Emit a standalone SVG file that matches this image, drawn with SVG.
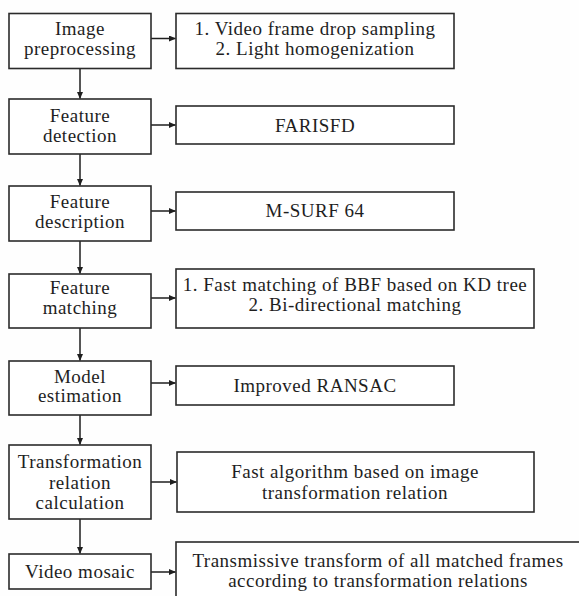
<svg xmlns="http://www.w3.org/2000/svg" width="579" height="596" viewBox="0 0 579 596">
<style>
.box{fill:#fff;stroke:#2b2b2b;stroke-width:1.6}
.t{font-family:"Liberation Serif","Times New Roman",serif;font-size:19px;letter-spacing:0.5px;fill:#1e1e1e;text-anchor:middle}
.c{stroke:#1e1e1e;stroke-width:1.5;fill:none}
</style>
<defs>
<marker id="ah" markerWidth="7" markerHeight="6" refX="6.5" refY="3" orient="auto" markerUnits="userSpaceOnUse">
<path d="M0,0 L7,3 L0,6 Z" fill="#1e1e1e"/>
</marker>
</defs>
<rect width="579" height="596" fill="#fefefe"/>
<g id="connectors">
<path class="c" d="M151,38.5 H175.5" marker-end="url(#ah)"/>
<path class="c" d="M151,125 H175.5" marker-end="url(#ah)"/>
<path class="c" d="M151,211 H175.5" marker-end="url(#ah)"/>
<path class="c" d="M151,298 H175.5" marker-end="url(#ah)"/>
<path class="c" d="M151,383 H175.5" marker-end="url(#ah)"/>
<path class="c" d="M151,482 H176.5" marker-end="url(#ah)"/>
<path class="c" d="M151,572 H175.5" marker-end="url(#ah)"/>
<path class="c" d="M80,68.5 V98.5" marker-end="url(#ah)"/>
<path class="c" d="M80,154 V185.5" marker-end="url(#ah)"/>
<path class="c" d="M80,241 V273.5" marker-end="url(#ah)"/>
<path class="c" d="M80,328 V360.5" marker-end="url(#ah)"/>
<path class="c" d="M80,415 V444.5" marker-end="url(#ah)"/>
<path class="c" d="M80,519 V553.5" marker-end="url(#ah)"/>
</g>
<g id="n1"><rect class="box" x="9" y="13.5" width="142" height="55"/>
<text class="t" x="80" y="35">Image</text><text class="t" x="80" y="55">preprocessing</text></g>
<g id="r1"><rect class="box" x="176" y="13.5" width="278" height="55"/>
<text class="t" x="315" y="35">1. Video frame drop sampling</text><text class="t" x="315" y="55">2. Light homogenization</text></g>
<g id="n2"><rect class="box" x="9" y="99" width="142" height="55"/>
<text class="t" x="80" y="121.5">Feature</text><text class="t" x="80" y="141.5">detection</text></g>
<g id="r2"><rect class="box" x="176" y="106" width="278" height="38"/>
<text class="t" x="315" y="131.5">FARISFD</text></g>
<g id="n3"><rect class="box" x="9" y="186" width="142" height="55"/>
<text class="t" x="80" y="207.5">Feature</text><text class="t" x="80" y="227.5">description</text></g>
<g id="r3"><rect class="box" x="176" y="192" width="278" height="38"/>
<text class="t" x="315" y="217">M-SURF 64</text></g>
<g id="n4"><rect class="box" x="9" y="274" width="142" height="54"/>
<text class="t" x="80" y="293.5">Feature</text><text class="t" x="80" y="313.5">matching</text></g>
<g id="r4"><rect class="box" x="176" y="269" width="358" height="59"/>
<text class="t" x="355" y="291">1. Fast matching of BBF based on KD tree</text><text class="t" x="355" y="311">2. Bi-directional matching</text></g>
<g id="n5"><rect class="box" x="9" y="361" width="142" height="54"/>
<text class="t" x="80" y="382.5">Model</text><text class="t" x="80" y="402">estimation</text></g>
<g id="r5"><rect class="box" x="176" y="366" width="278" height="39"/>
<text class="t" x="315" y="392">Improved RANSAC</text></g>
<g id="n6"><rect class="box" x="9" y="445" width="142" height="74"/>
<text class="t" x="80" y="467.5">Transformation</text><text class="t" x="80" y="488.5">relation</text><text class="t" x="80" y="509">calculation</text></g>
<g id="r6"><rect class="box" x="177" y="452" width="357" height="60"/>
<text class="t" x="355" y="478">Fast algorithm based on image</text><text class="t" x="355" y="499">transformation relation</text></g>
<g id="n7"><rect class="box" x="9" y="554" width="142" height="35"/>
<text class="t" x="80" y="578">Video mosaic</text></g>
<g id="r7"><rect class="box" x="176" y="542" width="420" height="80"/>
<text class="t" x="378" y="567">Transmissive transform of all matched frames</text><text class="t" x="378" y="587">according to transformation relations</text></g>
</svg>
